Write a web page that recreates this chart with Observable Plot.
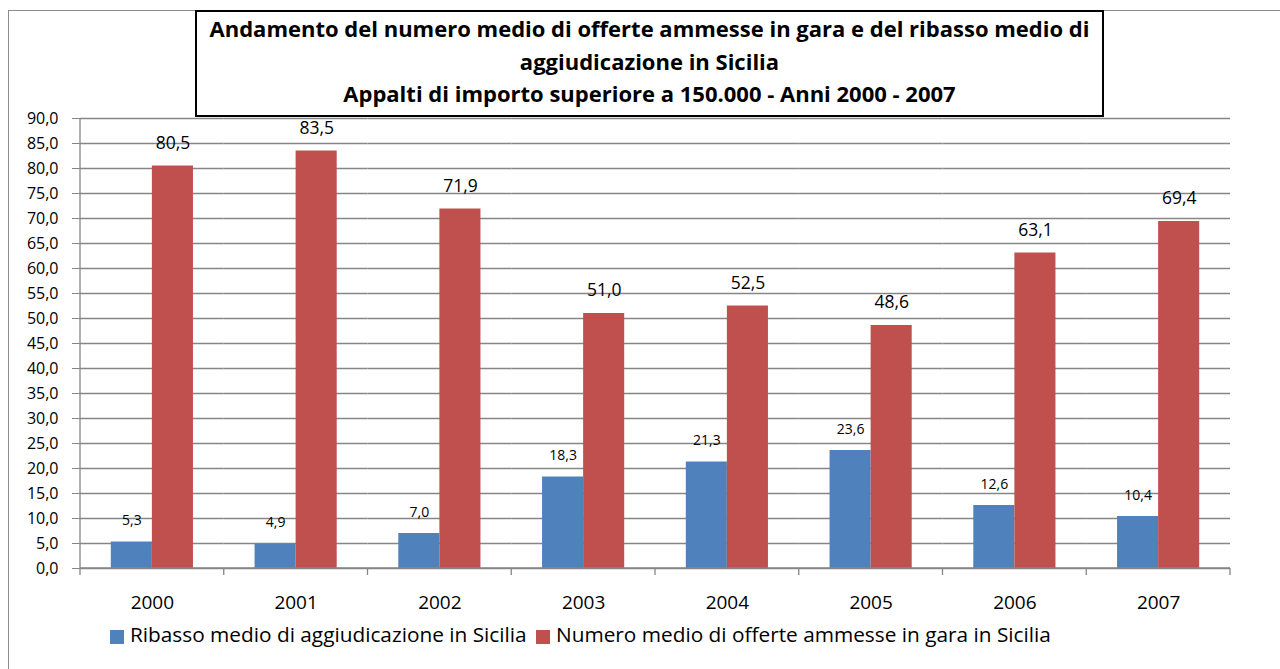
<!DOCTYPE html>
<html><head><meta charset="utf-8">
<script src="https://cdn.jsdelivr.net/npm/d3@7"></script>
<script src="https://cdn.jsdelivr.net/npm/@observablehq/plot@0.6"></script>
<style>
html,body{margin:0;padding:0;background:#fff;overflow:hidden;width:1280px;height:669px;}
#wrap{position:relative;width:1280px;height:669px;font-family:"Open Sans",sans-serif;overflow:hidden;}
#border{position:absolute;left:8px;top:10px;width:1300px;height:700px;border:1.5px solid #8c8c8c;box-sizing:border-box;}
#chart{position:absolute;left:0;top:0;}
#title{position:absolute;left:195px;top:10px;width:909px;height:107px;border:2px solid #000;box-sizing:border-box;background:#fff;text-align:center;font-weight:bold;font-size:22px;line-height:32.5px;padding-top:0px;color:#000;}
.leg{position:absolute;top:620px;display:flex;align-items:center;font-size:20.8px;color:#000;white-space:nowrap;}
.leg .sw{width:14px;height:14px;margin-right:6px;margin-top:5px;}
</style></head>
<body><div id="wrap"><div id="border"></div><div id="chart"></div><div id="title"></div></div>
<script>
const years = ["2000","2001","2002","2003","2004","2005","2006","2007"];
const seriesNames = ["Ribasso medio di aggiudicazione in Sicilia","Numero medio di offerte ammesse in gara in Sicilia"];
const ribasso = [5.3, 4.9, 7.0, 18.3, 21.3, 23.6, 12.6, 10.4];
const numero = [80.5, 83.5, 71.9, 51.0, 52.5, 48.6, 63.1, 69.4];
const colors = ["#4F81BD", "#C0504D"];
const yTicks = [0,5,10,15,20,25,30,35,40,45,50,55,60,65,70,75,80,85,90];
const titleLines = ["Andamento del numero medio di offerte ammesse in gara e del ribasso medio di","aggiudicazione in Sicilia","Appalti di importo superiore a 150.000 - Anni 2000 - 2007"];

const rows = [];
years.forEach((yr, i) => {
  rows.push({year: yr, series: seriesNames[0], value: ribasso[i]});
  rows.push({year: yr, series: seriesNames[1], value: numero[i]});
});
const fmt = v => d3.format(".1f")(v).replace(".", ",");
const grid = "#868686";

const chart = Plot.plot({
  width: 1280, height: 669,
  marginLeft: 80, marginRight: 50, marginTop: 118, marginBottom: 101,
  style: {fontFamily: "'Open Sans', sans-serif", fontSize: "15px", background: "transparent", color: "#000"},
  fx: {domain: years, padding: 0, round: false},
  x: {domain: seriesNames, paddingInner: 0, paddingOuter: 0.75, round: false, axis: null},
  y: {domain: [0, 90]},
  color: {domain: seriesNames, range: colors},
  marks: [
    Plot.gridY(yTicks, {stroke: grid, strokeOpacity: 1, strokeWidth: 1.3}),
    Plot.axisY({ticks: yTicks, tickSize: 8, tickPadding: 14, tickFormat: fmt, stroke: grid, strokeOpacity: 1, fill: "#000", fontSize: 16, label: null}),
    Plot.axisFx({anchor: "bottom", tickSize: 0, tickPadding: 27, fontSize: 19, fill: "#000", label: null}),
    Plot.barY(rows, {fx: "year", x: "series", y: "value", fill: "series"}),
    Plot.text(rows.filter(d => d.series === seriesNames[0]), {fx: "year", x: "series", y: "value", text: d => fmt(d.value), dy: -21, fontSize: 14, fill: "#000"}),
    Plot.text(rows.filter(d => d.series === seriesNames[1]), {fx: "year", x: "series", y: "value", text: d => fmt(d.value), dy: -23, fontSize: 17.5, fill: "#000"})
  ]
});
document.getElementById("chart").appendChild(chart);

// axis lines and category boundary ticks, placed with the plot's own scales
const svg = d3.select(chart);
const fxS = chart.scale("fx"), yS = chart.scale("y");
const [r0, r1] = fxS.range;
const step = (r1 - r0) / fxS.domain.length;
const y0 = yS.apply(0), yTop = yS.apply(90);
const g = svg.append("g").attr("stroke", grid).attr("stroke-width", 1.3);
g.append("line").attr("x1", r0).attr("x2", r0).attr("y1", yTop).attr("y2", y0 + 7);
g.append("line").attr("x1", r0).attr("x2", r1).attr("y1", y0).attr("y2", y0);
for (let i = 1; i <= fxS.domain.length; i++) {
  const x = r0 + i * step;
  g.append("line").attr("x1", x).attr("x2", x).attr("y1", y0).attr("y2", y0 + 7);
}

const t = document.getElementById("title");
titleLines.forEach(l => { const d = document.createElement("div"); d.textContent = l; t.appendChild(d); });

const wrap = document.getElementById("wrap");
const legLeft = [110, 536];
seriesNames.forEach((s, i) => {
  const d = document.createElement("div");
  d.className = "leg";
  d.style.left = legLeft[i] + "px";
  const sw = document.createElement("div"); sw.className = "sw"; sw.style.background = colors[i];
  const tx = document.createElement("span"); tx.textContent = s;
  d.appendChild(sw); d.appendChild(tx);
  wrap.appendChild(d);
});
</script></body></html>
